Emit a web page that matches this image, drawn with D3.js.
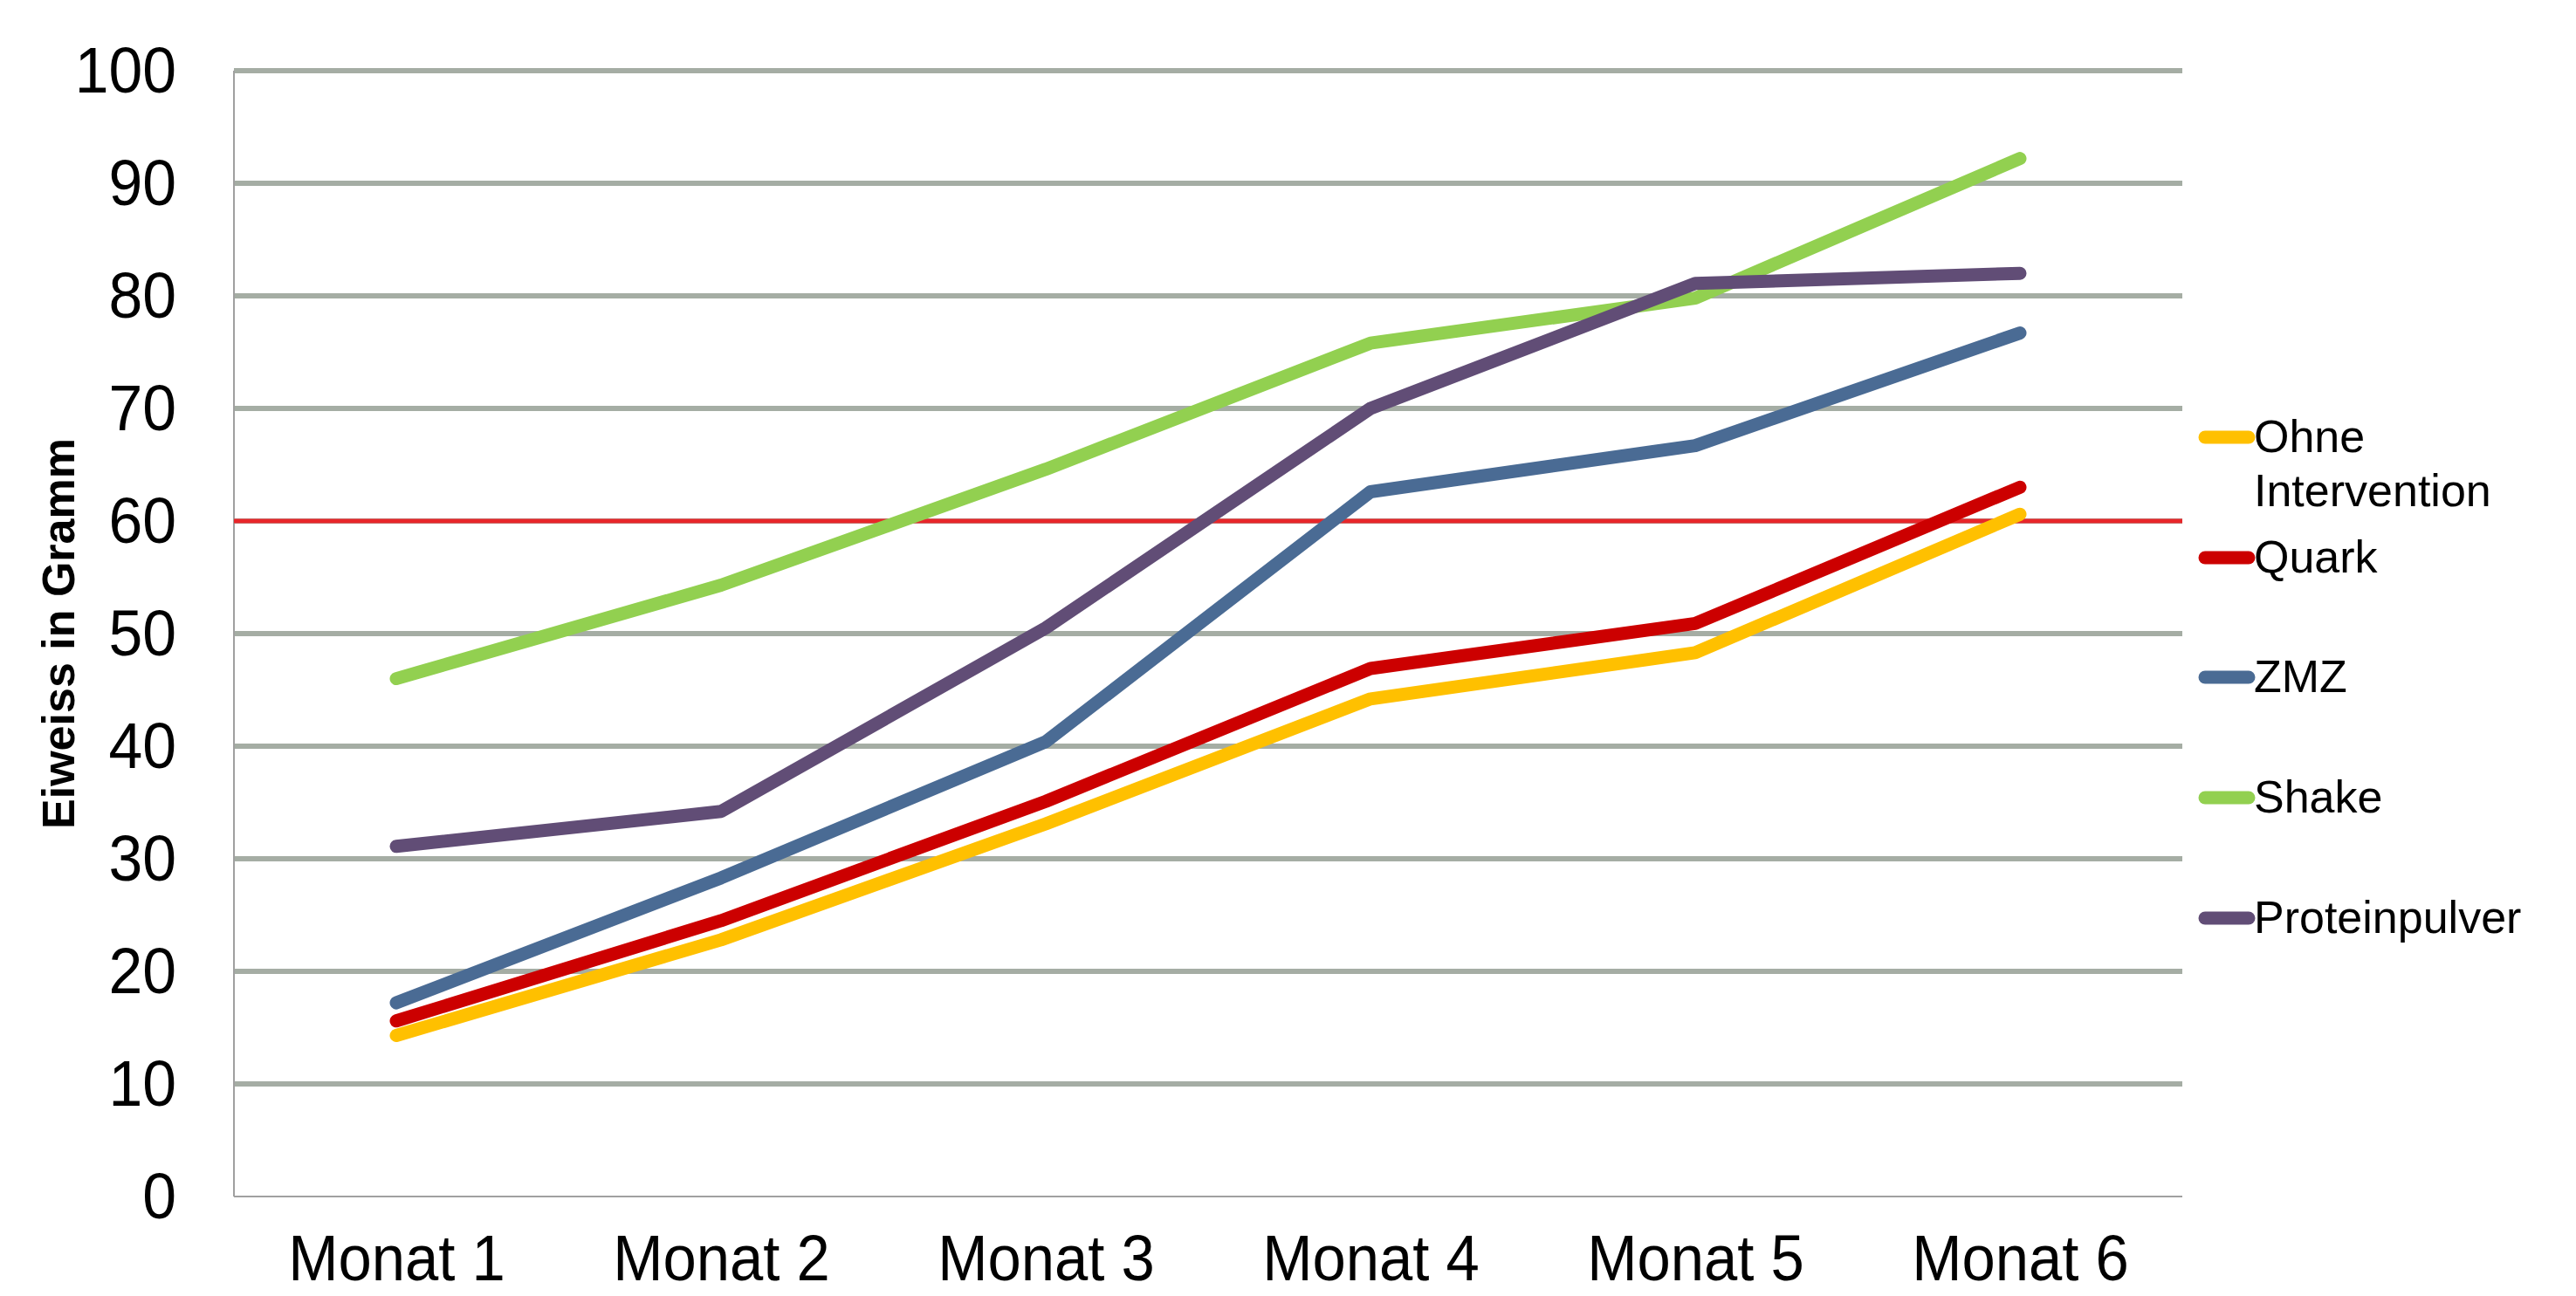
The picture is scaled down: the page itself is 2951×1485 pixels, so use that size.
<!DOCTYPE html>
<html>
<head>
<meta charset="utf-8">
<script src="https://cdn.jsdelivr.net/npm/d3@7"></script>
<style>
  html, body { margin: 0; padding: 0; background: #fff; }
  svg { display: block; }
</style>
</head>
<body>
<svg id="chart" width="2951" height="1485"></svg>
<script>
const categories = ["Monat 1", "Monat 2", "Monat 3", "Monat 4", "Monat 5", "Monat 6"];
const seriesNames = ["Ohne Intervention", "Quark", "ZMZ", "Shake", "Proteinpulver"];
const ohneIntervention = [14.3, 22.8, 33.1, 44.2, 48.3, 60.6];
const quark            = [15.6, 24.5, 35.1, 46.9, 50.9, 63.0];
const zmz              = [17.2, 28.3, 40.4, 62.6, 66.7, 76.7];
const shake            = [46.0, 54.3, 64.6, 75.8, 79.8, 92.2];
const proteinpulver    = [31.1, 34.2, 50.5, 70.0, 81.1, 82.0];
const yTicks = [0, 10, 20, 30, 40, 50, 60, 70, 80, 90, 100];
const referenceValue = 60;
const yAxisTitle = "Eiweiss in Gramm";
const colors = ["#FFC000", "#CC0000", "#4A6B94", "#92D050", "#614D76"];

(function () {
const seriesValues = [ohneIntervention, quark, zmz, shake, proteinpulver];
const series = seriesNames.map((n, i) => ({ name: n, values: seriesValues[i], color: colors[i] }));

const FONT = "'Liberation Sans', Arial, Helvetica, sans-serif";
const pLeft = 268, pRight = 2500, pTop = 81, pBottom = 1371;
const sx = 0.93;

const svg = d3.select("#chart");
const x = d3.scalePoint().domain(categories).range([pLeft, pRight]).padding(0.5);
const y = d3.scaleLinear().domain([0, 100]).range([pBottom, pTop]);

// gridlines
svg.append("g").selectAll("line")
  .data(yTicks.filter(t => t > 0))
  .join("line")
  .attr("x1", pLeft).attr("x2", pRight)
  .attr("y1", d => y(d)).attr("y2", d => y(d))
  .attr("stroke", "#A5ADA4").attr("stroke-width", 6);

// axis lines
svg.append("line").attr("x1", pLeft).attr("x2", pLeft).attr("y1", y(100)).attr("y2", y(0))
  .attr("stroke", "#A0A0A0").attr("stroke-width", 2);
svg.append("line").attr("x1", pLeft).attr("x2", pRight).attr("y1", y(0)).attr("y2", y(0))
  .attr("stroke", "#A0A0A0").attr("stroke-width", 2);

// y axis labels
const yAxis = d3.axisLeft(y).tickValues(yTicks).tickSize(0).tickPadding(66);
const gy = svg.append("g").attr("transform", `translate(${pLeft},0)`).call(yAxis);
gy.select(".domain").remove();
gy.selectAll("text").attr("font-family", FONT).attr("font-size", 75).attr("fill", "#000")
  .attr("x", -66 / sx).attr("transform", `scale(${sx},1)`);

// x axis labels
const xAxis = d3.axisBottom(x).tickSize(0);
const gx = svg.append("g").attr("transform", `translate(0,${pBottom})`).call(xAxis);
gx.select(".domain").remove();
gx.selectAll("text").attr("font-family", FONT).attr("font-size", 74).attr("fill", "#000")
  .attr("y", 96).attr("dy", 0).attr("transform", `scale(${sx},1)`);

// y axis title
svg.append("text")
  .attr("transform", `translate(85,726) rotate(-90)`)
  .attr("text-anchor", "middle")
  .attr("font-family", FONT).attr("font-size", 52).attr("font-weight", "bold")
  .text(yAxisTitle);

// reference line
svg.append("line")
  .attr("x1", pLeft).attr("x2", pRight)
  .attr("y1", y(referenceValue)).attr("y2", y(referenceValue))
  .attr("stroke", "#E8262A").attr("stroke-width", 5);

// series lines
const line = d3.line().x((d, i) => x(categories[i])).y(d => y(d));
svg.append("g").selectAll("path")
  .data(series)
  .join("path")
  .attr("d", d => line(d.values))
  .attr("fill", "none")
  .attr("stroke", d => d.color)
  .attr("stroke-width", 15)
  .attr("stroke-linecap", "round")
  .attr("stroke-linejoin", "round");

// legend
const legendY = [501, 639, 776, 914, 1052];
const lg = svg.append("g");
series.forEach((s, i) => {
  const g = lg.append("g").attr("transform", `translate(0,${legendY[i]})`);
  g.append("line").attr("x1", 2526).attr("x2", 2576).attr("y1", 0).attr("y2", 0)
    .attr("stroke", s.color).attr("stroke-width", 15).attr("stroke-linecap", "round");
  const words = s.name.split(" ");
  const t = g.append("text").attr("x", 2582).attr("y", 17)
    .attr("font-family", FONT).attr("font-size", 52).attr("fill", "#000");
  words.forEach((w, j) => {
    t.append("tspan").attr("x", 2582).attr("dy", j === 0 ? 0 : 62).text(w);
  });
});
})();
</script>
</body>
</html>
